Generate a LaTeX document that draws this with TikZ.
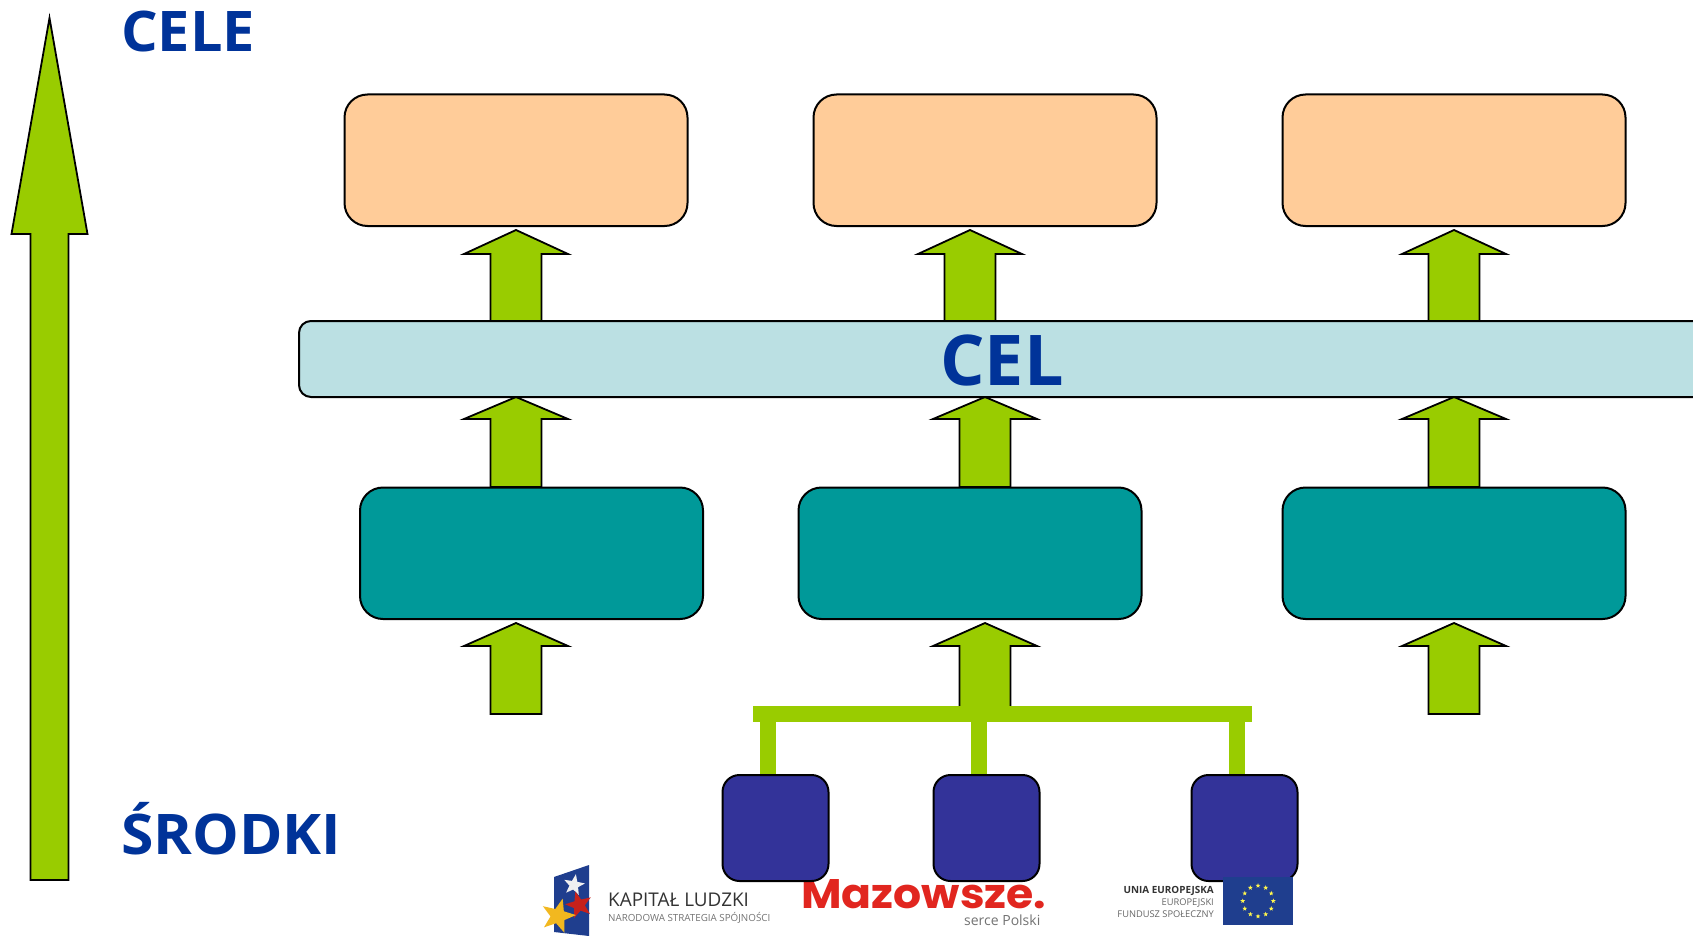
\documentclass[tikz,border=0pt]{standalone}
\usepackage{fontspec}
\setmainfont{Open Sans}
\newfontfamily\poppinsf{Poppins}
\usetikzlibrary{shapes.geometric}
\definecolor{cOrange}{HTML}{FFCC99}
\definecolor{cTeal}{HTML}{009999}
\definecolor{cIce}{HTML}{BBE0E3}
\definecolor{cGreen}{HTML}{99CC00}
\definecolor{cNavy}{HTML}{333399}
\definecolor{cTitle}{HTML}{003399}
\definecolor{cRed}{HTML}{E1261F}
\definecolor{cEU}{HTML}{1F3E8E}
\definecolor{cGold}{HTML}{F2B81F}
\tikzset{
  rbox/.style={draw=black,line width=2pt,rounded corners=23pt,inner sep=0pt,anchor=north west},
  goalbox/.style={rbox,fill=cOrange,minimum width=343pt,minimum height=131.5pt},
  meansbox/.style={rbox,fill=cTeal,minimum width=343pt,minimum height=131.5pt},
  subbox/.style={rbox,fill=cNavy,rounded corners=17pt,minimum width=106pt,minimum height=106pt},
  blockarrow/.style={draw=black,line width=1.8pt,fill=cGreen,line join=miter},
  title/.style={text=cTitle,font=\bfseries\fontsize{56}{60}\selectfont,anchor=base west,inner sep=0pt},
  bus/.style={fill=cGreen,draw=none},
  smalltxt/.style={inner sep=0pt,anchor=base east,font=\fontsize{9.3}{11}\selectfont},
  logotxt/.style={inner sep=0pt,anchor=base west},
  starmark/.style={star,star points=5,star point ratio=2.4,inner sep=0pt,draw=none}
}
\newcommand{\uparrowshape}[4]{% cx, tip, base, bottom
  \draw[blockarrow] (#1-25.5,#4) -- (#1-25.5,#3) -- (#1-52,#3) -- (#1,#2) -- (#1+52,#3) -- (#1+25.5,#3) -- (#1+25.5,#4) -- cycle;}
\begin{document}
\begin{tikzpicture}[x=1pt,y=-1pt]
\useasboundingbox (0,0) rectangle (1693,936);
\fill[white] (0,0) rectangle (1693,936);
% big arrow
\draw[blockarrow] (30.5,880) -- (30.5,234) -- (11.5,234) -- (49.5,18) -- (87.5,234) -- (68.5,234) -- (68.5,880) -- cycle;
\node[title] (cele) at (121,52) {\scalebox{1.03}[1]{CELE}};
\node[title] (srodki) at (121,854) {\scalebox{1.05}[1]{ŚRODKI}};
% arrows
\uparrowshape{516}{230}{254}{321}
\uparrowshape{970}{230}{254}{321}
\uparrowshape{1454}{230}{254}{321}
\uparrowshape{516}{397}{419}{487}
\uparrowshape{985}{397}{419}{487}
\uparrowshape{1454}{397}{419}{487}
\uparrowshape{516}{623}{646}{714}
\uparrowshape{985}{623}{646}{714}
\uparrowshape{1454}{623}{646}{714}
% goals
\node[goalbox] (g1) at (343.5,93.5) {};
\node[goalbox] (g2) at (812.5,93.5) {};
\node[goalbox] (g3) at (1281.5,93.5) {};
% central bar
\draw[draw=black,line width=2pt,fill=cIce,rounded corners=12pt] (1720,321) -- (299,321) -- (299,397) -- (1720,397);
\node[text=cTitle,font=\bfseries\fontsize{70}{74}\selectfont,anchor=base,inner sep=0pt] (cel) at (1002,385) {CEL};
% means
\node[meansbox] (m1) at (359,486.5) {};
\node[meansbox] (m2) at (797.5,486.5) {};
\node[meansbox] (m3) at (1281.5,486.5) {};
% Kapitał Ludzki logo
\fill[cEU] (554,877) -- (589,865) -- (589,936) -- (554,932) -- cycle;
\node[starmark,fill=white!88!gray,minimum size=22pt,rotate=-10] (kw) at (574,885) {};
\node[starmark,fill=cRed!88!black,minimum size=28pt,rotate=15] (kr) at (579,905) {};
\node[starmark,fill=cGold,minimum size=36pt,rotate=-15] (ky) at (558,916) {};
\node[logotxt,text=black!80,font=\fontsize{18.9}{20}\selectfont] (kl1) at (608,906) {KAPITAŁ LUDZKI};
\node[logotxt,text=black!55,font=\fontsize{9.8}{12}\selectfont] (kl2) at (608,921) {NARODOWA STRATEGIA SPÓJNOŚCI};
% Mazowsze
\node[inner sep=0pt,anchor=base west,text=cRed] (maz) at (801,908) {\poppinsf\bfseries\resizebox{245pt}{29pt}{Mazowsze.}};
\node[logotxt,text=black!55,font=\fontsize{14}{16}\selectfont] (maz2) at (964,925) {serce Polski};
% bus
\fill[bus] (753,706) rectangle (1252,722);
\fill[bus] (760,722) rectangle (776,776);
\fill[bus] (971,722) rectangle (987,776);
\fill[bus] (1229,722) rectangle (1245,776);
% sub boxes
\node[subbox] (s1) at (721.5,774) {};
\node[subbox] (s2) at (932.5,774) {};
\node[subbox] (s3) at (1190.5,774) {};
% EU
\fill[cEU] (1223,877) rectangle (1293,925);
\foreach \a in {0,30,...,330}
  \node[starmark,fill=yellow!70!white,minimum size=5pt] at ({1258+15.3*cos(\a)},{901+15.3*sin(\a)}) {};
\node[smalltxt,text=black!80,font=\bfseries\fontsize{9.9}{11}\selectfont] (eu1) at (1214,893) {UNIA EUROPEJSKA};
\node[smalltxt,text=black!60] (eu2) at (1214,905) {EUROPEJSKI};
\node[smalltxt,text=black!60] (eu3) at (1214,917) {FUNDUSZ SPOŁECZNY};
\end{tikzpicture}
\end{document}
